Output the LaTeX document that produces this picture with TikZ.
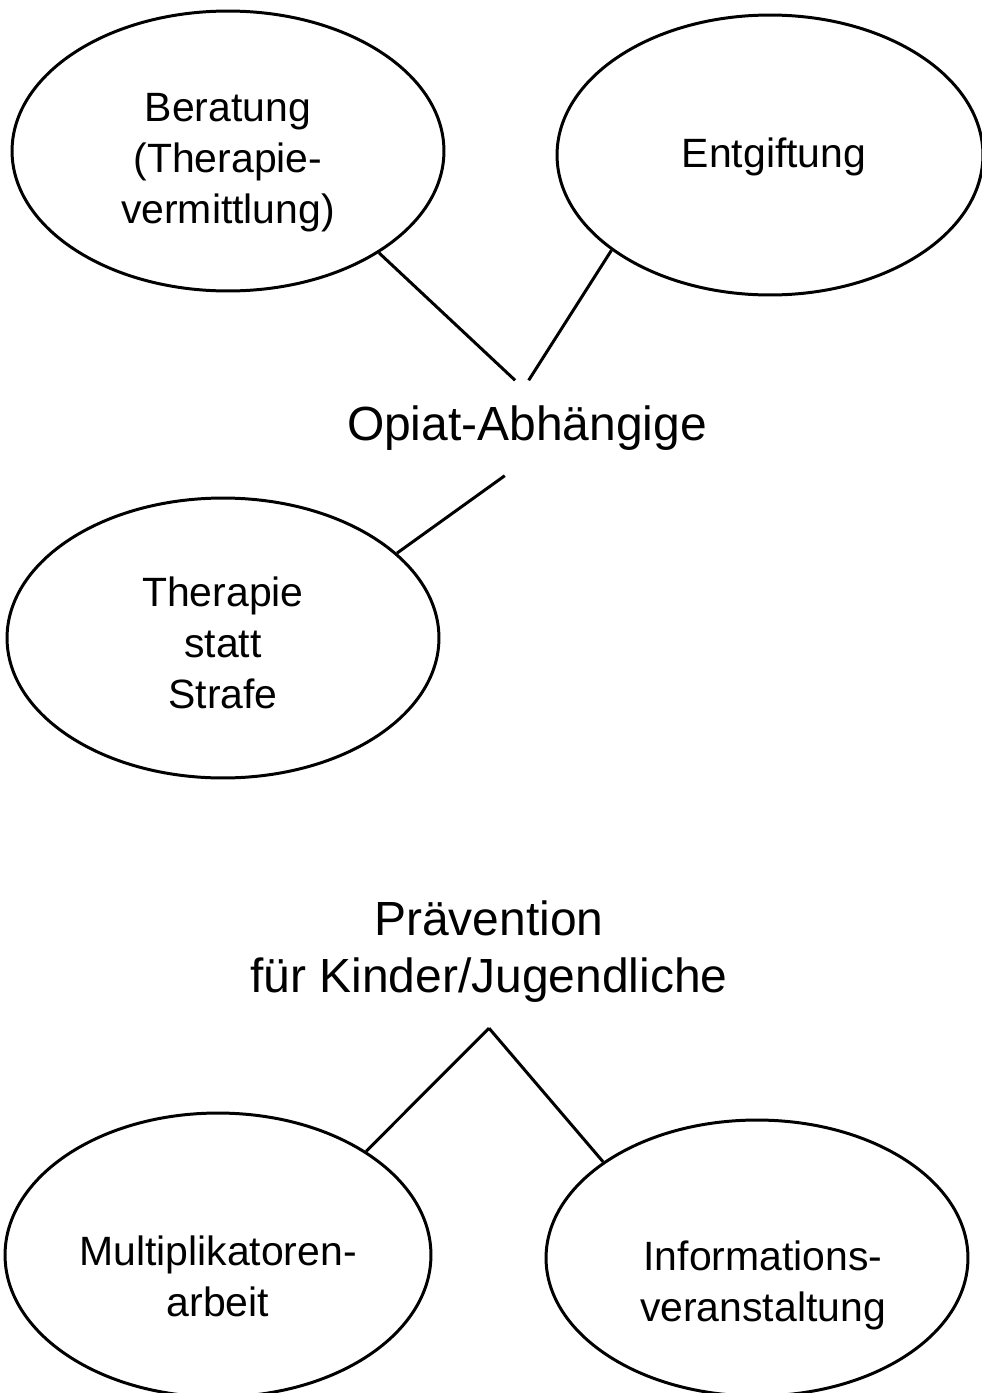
\documentclass[tikz,border=0pt]{standalone}
\usepackage{fontspec}
\setmainfont{Liberation Sans}
\usepackage{tikz}
\usetikzlibrary{shapes.geometric}
\tikzstyle{oval} = [draw=black, line width=1.7pt, ellipse, inner sep=0pt]
\tikzstyle{ovaltext} = [align=center, font=\fontsize{23.3}{29}\selectfont]
\tikzstyle{headline} = [align=center, inner sep=0.5cm, font=\fontsize{27.3}{32.4}\selectfont]
\tikzstyle{link} = [draw=black, line width=1.7pt]

\begin{document}
\begin{tikzpicture}[x=0.02cm, y=-0.02cm]
        \useasboundingbox (0,0) rectangle (981,1393);
        \node [oval, minimum width=8.64cm, minimum height=5.6cm] (ber) at (228,151) {};
        \node [ovaltext] (bertext) at (228,163) {Beratung\\(Therapie-\\vermittlung)};
        \node [oval, minimum width=8.52cm, minimum height=5.6cm] (ent) at (770,155) {};
        \node [ovaltext] (enttext) at (774,157) {Entgiftung};
        \node [headline] (opiat) at (527,428) {Opiat-Abhängige};
        \node [oval, minimum width=8.64cm, minimum height=5.6cm] (ther) at (223,638) {};
        \node [ovaltext] (thertext) at (223,643) {Therapie\\statt\\Strafe};
        \node [headline] (prev) at (489,952) {Prävention\\für Kinder/Jugendliche};
        \node [oval, minimum width=8.52cm, minimum height=5.68cm] (multi) at (218,1255) {};
        \node [ovaltext] (multitext) at (218,1276) {Multiplikatoren-\\arbeit};
        \node [oval, minimum width=8.44cm, minimum height=5.52cm] (info) at (757,1258) {};
        \node [ovaltext] (infotext) at (763,1285) {Informations-\\veranstaltung};
        \draw [link] (ber.-34) -- (opiat.104);
        \draw [link] (ent.211) -- (opiat.88);
        \draw [link] (opiat.-115) -- (ther.26);
        \draw [link] (prev.south) -- (multi.35);
        \draw [link] (prev.south) -- (info.148);
\end{tikzpicture}
\end{document}
